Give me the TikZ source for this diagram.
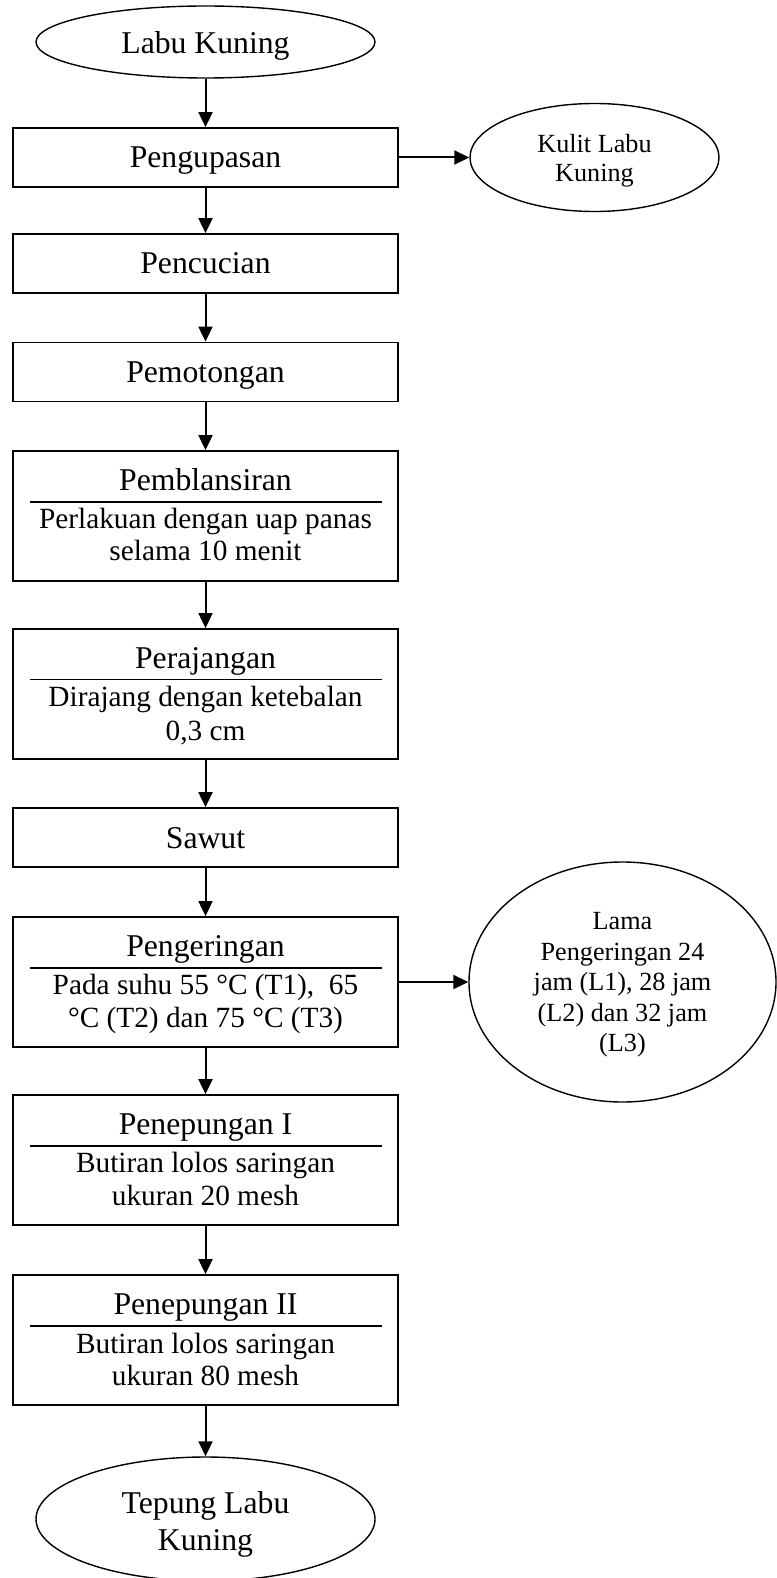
\documentclass[tikz,border=0pt]{standalone}
\usepackage{fontspec}
\setmainfont{Liberation Serif}
\usetikzlibrary{arrows.meta,shapes.geometric}
\begin{document}
\begin{tikzpicture}[x=1pt,y=-1pt,
  box/.style={draw,line width=1.8pt,rectangle,minimum width=385pt,inner sep=0pt},
  oval/.style={draw,line width=1.4pt,ellipse,inner sep=0pt},
  arr/.style={line width=2pt,-{Triangle[length=15pt,width=14pt]}},
  head/.style={anchor=base,inner sep=0pt,font=\fontsize{31.7}{38}\selectfont},
  sub/.style={anchor=base,inner sep=0pt,font=\fontsize{29.3}{33}\selectfont},
  side/.style={anchor=base,inner sep=0pt,font=\fontsize{26.2}{30}\selectfont},
  rule/.style={line width=1.6pt}]
\useasboundingbox (0,0) rectangle (776,1578);

% start
\node[oval,minimum width=339pt,minimum height=72pt] (start) at (205.5,42) {};
\node[head] (tstart) at (205.5,54) {Labu Kuning};

% Pengupasan
\node[box,minimum height=59pt] (b1) at (205.5,157.5) {};
\node[head] (t1) at (205.5,167.5) {Pengupasan};
\node[oval,minimum width=249pt,minimum height=108pt] (kulit) at (594.5,157.5) {};
\node[side] (tk1) at (594.5,152.7) {Kulit Labu};
\node[side] (tk2) at (594.5,181.7) {Kuning};

% Pencucian
\node[box,minimum height=59pt] (b2) at (205.5,263.5) {};
\node[head] (t2) at (205.5,274) {Pencucian};

% Pemotongan
\node[box,minimum height=59pt] (b3) at (205.5,372) {};
\node[head] (t3) at (205.5,382) {Pemotongan};

% Pemblansiran
\node[box,minimum height=130pt] (b4) at (205.5,516) {};
\node[head] (t4) at (205.5,490.5) {Pemblansiran};
\draw[rule] (30,502) -- (382,502);
\node[sub] (t4a) at (205.5,528) {Perlakuan dengan uap panas};
\node[sub] (t4b) at (205.5,560) {selama 10 menit};

% Perajangan
\node[box,minimum height=130pt] (b5) at (205.5,694) {};
\node[head] (t5) at (205.5,668) {Perajangan};
\draw[rule] (30,679.5) -- (382,679.5);
\node[sub] (t5a) at (205.5,706.5) {Dirajang dengan ketebalan};
\node[sub] (t5b) at (205.5,740) {0,3 cm};

% Sawut
\node[box,minimum height=59pt] (b6) at (205.5,837.5) {};
\node[head] (t6) at (205.5,848) {Sawut};

% Pengeringan
\node[box,minimum height=130pt] (b7) at (205.5,982) {};
\node[head] (t7) at (205.5,956.5) {Pengeringan};
\draw[rule] (30,968) -- (382,968);
\node[sub] (t7a) at (205.5,994.5) {Pada suhu 55 °C (T1),\ \ 65};
\node[sub] (t7b) at (205.5,1027) {°C (T2) dan 75 °C (T3)};

\node[oval,minimum width=307pt,minimum height=240pt] (lama) at (622.5,982) {};
\node[side] (tl1) at (622.5,929) {Lama};
\node[side] (tl2) at (622.5,960) {Pengeringan 24};
\node[side] (tl3) at (622.5,990.7) {jam (L1), 28 jam};
\node[side] (tl4) at (622.5,1021) {(L2) dan 32 jam};
\node[side] (tl5) at (622.5,1051.7) {(L3)};

% Penepungan I
\node[box,minimum height=130pt] (b8) at (205.5,1160) {};
\node[head] (t8) at (205.5,1134) {Penepungan I};
\draw[rule] (30,1146) -- (382,1146);
\node[sub] (t8a) at (205.5,1172) {Butiran lolos saringan};
\node[sub] (t8b) at (205.5,1205) {ukuran 20 mesh};

% Penepungan II
\node[box,minimum height=130pt] (b9) at (205.5,1340) {};
\node[head] (t9) at (205.5,1314) {Penepungan II};
\draw[rule] (30,1326) -- (382,1326);
\node[sub] (t9a) at (205.5,1353) {Butiran lolos saringan};
\node[sub] (t9b) at (205.5,1385) {ukuran 80 mesh};

% end
\node[oval,minimum width=339pt,minimum height=124pt] (finish) at (205.5,1519) {};
\node[head] (tf1) at (205.5,1513) {Tepung Labu};
\node[head] (tf2) at (205.5,1550) {Kuning};

% connectors
\draw[arr] (start.south) -- (b1.north);
\draw[arr] (b1.east) -- (kulit.west);
\draw[arr] (b1.south) -- (b2.north);
\draw[arr] (b2.south) -- (b3.north);
\draw[arr] (b3.south) -- (b4.north);
\draw[arr] (b4.south) -- (b5.north);
\draw[arr] (b5.south) -- (b6.north);
\draw[arr] (b6.south) -- (b7.north);
\draw[arr] (b7.east) -- (lama.west);
\draw[arr] (b7.south) -- (b8.north);
\draw[arr] (b8.south) -- (b9.north);
\draw[arr] (b9.south) -- (finish.north);
\end{tikzpicture}
\end{document}
